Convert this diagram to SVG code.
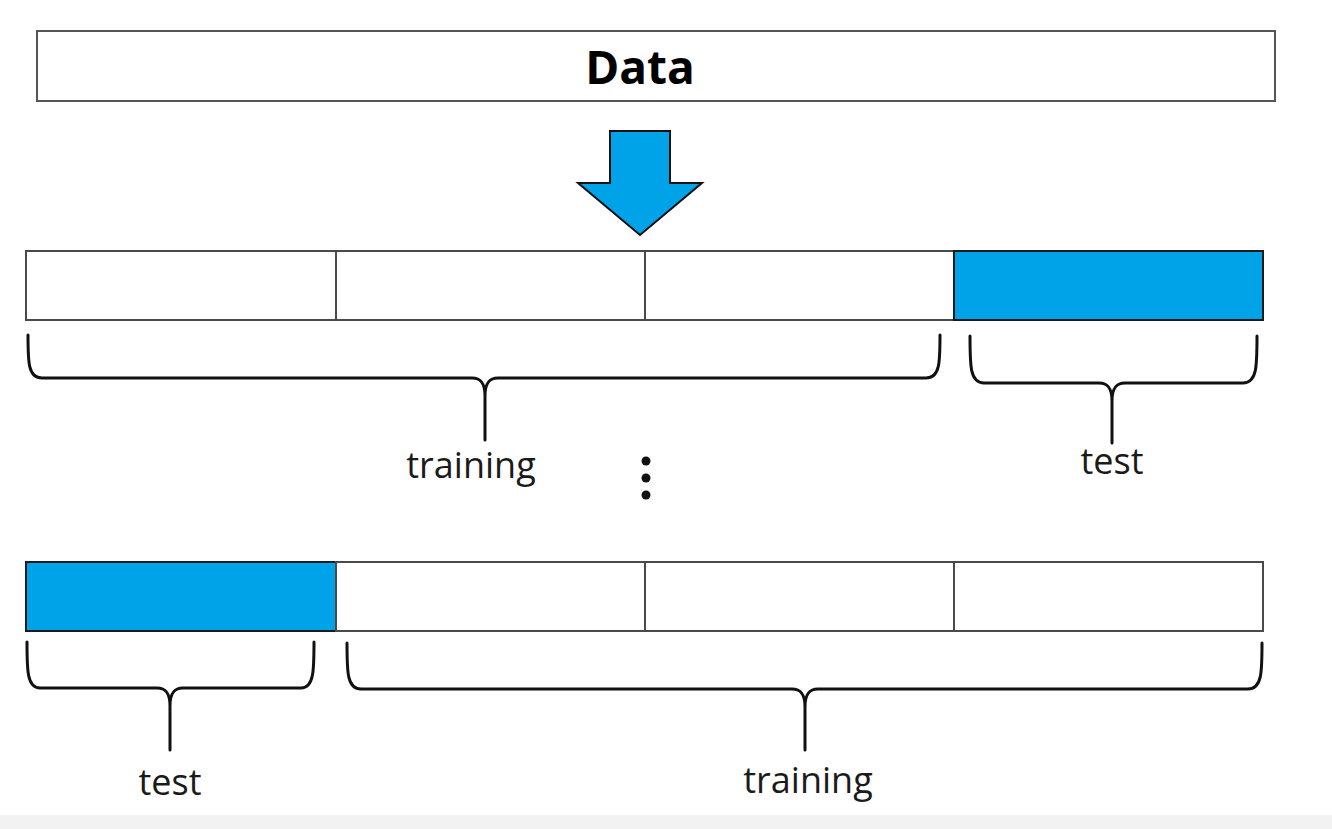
<svg xmlns="http://www.w3.org/2000/svg" width="1332" height="829" viewBox="0 0 1332 829">
<style>
.cell{fill:#ffffff;stroke:#4a4a4a;stroke-width:2}
.blue{fill:#00a2e8;stroke:#1a1a1a;stroke-width:2}
.brace{fill:none;stroke:#111;stroke-width:3;stroke-linejoin:round;stroke-linecap:round}
.lbl{font-family:"Open Sans","Liberation Sans",sans-serif;font-size:36px;fill:#1a1a1a;text-anchor:middle}
</style>
<rect x="0" y="0" width="1332" height="829" fill="#ffffff"/>
<rect x="0" y="815" width="1332" height="14" fill="#f2f2f2"/>
<g id="data">
<rect x="37" y="31" width="1238" height="70" fill="#ffffff" stroke="#555" stroke-width="2"/>
<text x="640" y="84" font-family="'Open Sans','Liberation Sans',sans-serif" font-weight="bold" font-size="46" text-anchor="middle" fill="#000">Data</text>
</g>
<g id="arrow">
<path d="M610,131 H670 V183 H702 L640,235 L578,183 H610 Z" fill="#00a2e8" stroke="#111" stroke-width="2" stroke-linejoin="miter"/>
</g>
<g id="row1">
<rect class="cell" x="26" y="251" width="310" height="69"/>
<rect class="cell" x="336" y="251" width="309" height="69"/>
<rect class="cell" x="645" y="251" width="309" height="69"/>
<rect class="blue" x="954" y="251" width="309" height="69"/>
</g>
<g id="row2">
<rect class="blue" x="26" y="562" width="310" height="69"/>
<rect class="cell" x="336" y="562" width="309" height="69"/>
<rect class="cell" x="645" y="562" width="309" height="69"/>
<rect class="cell" x="954" y="562" width="309" height="69"/>
</g>
<g id="connectors">
<path class="brace" d="M28,335 C28,362 28,378 42,378 L472,378 C480,378 485,382 485,396 L485,440 M485,396 C485,382 490,378 498,378 L926,378 C940,378 940,362 940,335"/>
<path class="brace" d="M970,336 C970,366 970,383 984,383 L1099,383 C1107,383 1112,387 1112,401 L1112,443 M1112,401 C1112,387 1117,383 1125,383 L1243,383 C1257,383 1257,366 1257,336"/>
<path class="brace" d="M27,642 C27,670 27,688 40,688 L157,688 C165,688 170,692 170,706 L170,750 M170,706 C170,692 175,688 183,688 L301,688 C314,688 314,670 314,642"/>
<path class="brace" d="M347,643 C347,672 347,689 361,689 L792,689 C800,689 805,693 805,707 L805,750 M805,707 C805,693 810,689 818,689 L1248,689 C1262,689 1262,672 1262,643"/>
</g>
<g id="labels">
<text class="lbl" x="471" y="478">training</text>
<text class="lbl" x="1112" y="474">test</text>
<text class="lbl" x="170" y="795">test</text>
<text class="lbl" x="808" y="793">training</text>
</g>
<g id="dots" fill="#111">
<circle cx="646" cy="461" r="4.5"/>
<circle cx="646" cy="478" r="4.5"/>
<circle cx="646" cy="495" r="4.5"/>
</g>
</svg>
